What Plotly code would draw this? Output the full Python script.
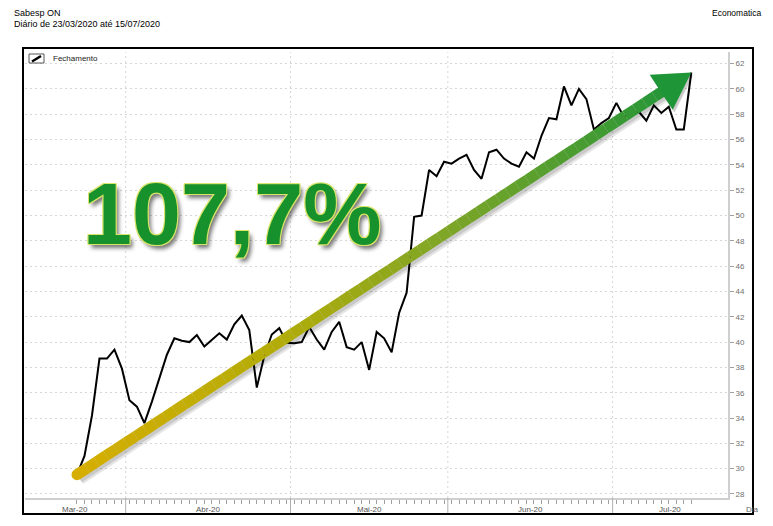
import math
import pandas as pd
import plotly.graph_objects as go

# ---------------- data ----------------
chart_title = "Sabesp ON"
chart_subtitle = "Diário de 23/03/2020 até 15/07/2020"
source_label = "Economatica"
series_name = "Fechamento"
x_axis_unit = "Dia"

start_date = "2020-03-23"
end_date = "2020-07-15"
month_labels = ["Mar-20", "Abr-20", "Mai-20", "Jun-20", "Jul-20"]
y_ticks = list(range(28, 63, 2))

close_values = [
    29.52, 31.0, 34.2, 38.7, 38.7, 39.4, 37.9,                     # Mar
    35.4, 34.9, 33.6, 35.3, 37.2, 39.0, 40.3, 40.1, 40.0, 40.55,
    39.65, 40.2, 40.7, 40.2, 41.4, 42.1, 40.95, 36.4, 38.9, 40.6,
    41.1, 39.95,                                                   # Abr
    39.9, 40.0, 41.2, 40.2, 39.4, 40.8, 41.6, 39.6, 39.4, 40.0,
    37.8, 40.8, 40.3, 39.2, 42.3, 43.9, 49.9, 50.0, 53.6, 53.1,
    54.25,                                                         # Mai
    54.1, 54.5, 54.8, 53.6, 52.9, 55.0, 55.2, 54.5, 54.1, 53.85,
    55.0, 54.5, 56.3, 57.7, 57.6, 60.2, 58.7, 60.0, 59.2, 56.8,
    57.3, 57.7,                                                    # Jun
    58.9, 57.8, 58.0, 58.2, 57.5, 58.7, 58.1, 58.6, 56.8, 56.8,
    61.3,                                                          # Jul
]

dates = pd.bdate_range(start_date, end_date)
assert len(dates) == len(close_values)
x_idx = list(range(len(dates)))

FONT = "Liberation Sans"

# ---------------- layout geometry ----------------
W, H = 773, 526
ML, MR, MT, MB = 25, 45, 52, 28
PW, PH = W - ML - MR, H - MT - MB
XR = [-6.94, 86.9]
YR = [27.68, 62.92]
SX = PW / (XR[1] - XR[0])
SY = PH / (YR[1] - YR[0])


def px_x(px):
    return (px - ML) / PW


def px_y(py):
    return (MT + PH - py) / PH


# month boundaries and label positions
boundaries = [i - 0.5 for i in range(1, len(dates)) if dates[i].month != dates[i - 1].month]
edges = [XR[0]] + boundaries + [XR[1]]
label_pos = [(edges[k] + edges[k + 1]) / 2 for k in range(len(month_labels))]

fig = go.Figure()
fig.add_trace(go.Scatter(
    x=x_idx, y=close_values, mode="lines", name=series_name,
    line=dict(color="#000000", width=2),
    customdata=[d.strftime("%d/%m/%Y") for d in dates],
    hovertemplate="%{customdata}: %{y:.2f}<extra></extra>",
    showlegend=False,
))

shapes = []
annotations = []

# vertical dotted gridlines and separators at month boundaries
for b in boundaries:
    shapes.append(dict(type="line", xref="x", yref="paper", x0=b, x1=b, y0=0, y1=1,
                       line=dict(color="#d6d6d6", width=1, dash="2px,3px"), layer="below"))
    shapes.append(dict(type="line", xref="x", yref="paper", x0=b, x1=b, y0=0, y1=px_y(514),
                       line=dict(color="#b0b0b0", width=1), layer="above"))

# month labels
for lab, pos in zip(month_labels, label_pos):
    annotations.append(dict(text=lab, x=pos, xref="x", y=px_y(509), yref="paper",
                            showarrow=False, xanchor="center", yanchor="middle",
                            font=dict(family=FONT, size=8, color="#555555")))
annotations.append(dict(text=x_axis_unit, x=px_x(752), y=px_y(509), xref="paper", yref="paper",
                        showarrow=False, xanchor="center", yanchor="middle",
                        font=dict(family=FONT, size=8, color="#666666")))

# ---------------- gradient arrow from first to last close ----------------
x_a, y_a = x_idx[0], close_values[0]
tx = (x_idx[-1] - x_a) * SX
ty = (close_values[-1] - y_a) * SY
L = math.hypot(tx, ty)
ux, uy = tx / L, ty / L
nx, ny = -uy, ux
head_len, head_half, shaft_w = 36, 21, 11
bx, by = tx - head_len * ux, ty - head_len * uy
sx_end, sy_end = tx - (head_len - 4) * ux, ty - (head_len - 4) * uy

stops = [(0.0, (214, 174, 0)), (0.35, (178, 172, 8)), (0.62, (128, 166, 38)), (1.0, (38, 150, 55))]


def grad(t):
    for (t0, c0), (t1, c1) in zip(stops[:-1], stops[1:]):
        if t <= t1:
            f = (t - t0) / (t1 - t0)
            return "rgb(%d,%d,%d)" % tuple(round(a + (b - a) * f) for a, b in zip(c0, c1))
    return "rgb(%d,%d,%d)" % stops[-1][1]


pix = dict(xref="x", yref="y", xsizemode="pixel", ysizemode="pixel", xanchor=x_a, yanchor=y_a)
hv1 = (bx + head_half * nx, by + head_half * ny)
hv2 = (bx - head_half * nx, by - head_half * ny)


def path(pts, dx=0.0, dy=0.0):
    return "M " + " L ".join("%.2f,%.2f" % (p[0] + dx, p[1] + dy) for p in pts) + " Z"


# soft shadow
for off, alpha, extra in [((2.0, -3.0), 0.10, 4), ((1.5, -2.5), 0.12, 1)]:
    shapes.append(dict(type="line", x0=off[0], y0=off[1], x1=sx_end + off[0], y1=sy_end + off[1],
                       line=dict(color="rgba(0,0,0,%.2f)" % alpha, width=shaft_w + extra), **pix))
    shapes.append(dict(type="path", path=path([(tx, ty), hv1, hv2], off[0], off[1]),
                       fillcolor="rgba(0,0,0,%.2f)" % alpha, line=dict(width=0), **pix))
# shaft segments
N = 60
for k in range(N):
    t0, t1 = k / N, (k + 1) / N
    shapes.append(dict(type="line", x0=sx_end * t0, y0=sy_end * t0, x1=sx_end * t1, y1=sy_end * t1,
                       line=dict(color=grad((t0 + t1) / 2), width=shaft_w), **pix))
shapes.append(dict(type="circle", x0=-shaft_w / 2, x1=shaft_w / 2, y0=-shaft_w / 2, y1=shaft_w / 2,
                   fillcolor=grad(0), line=dict(width=0), **pix))
# head
shapes.append(dict(type="path", path=path([(tx, ty), hv1, hv2]),
                   fillcolor="rgb(30,150,55)", line=dict(width=0), **pix))

# ---------------- legend box (custom) ----------------
shapes.append(dict(type="rect", xref="paper", yref="paper", x0=px_x(29), x1=px_x(44),
                   y0=px_y(63), y1=px_y(54), line=dict(color="#555555", width=1), fillcolor="white"))
shapes.append(dict(type="line", xref="paper", yref="paper", x0=px_x(32), x1=px_x(41),
                   y0=px_y(61.5), y1=px_y(56), line=dict(color="#000000", width=2.5)))
annotations.append(dict(text=series_name, x=px_x(51), y=px_y(58.5), xref="paper", yref="paper",
                        showarrow=False, xanchor="left", yanchor="middle",
                        font=dict(family=FONT, size=8, color="#222222")))

# ---------------- frame ----------------
shapes.append(dict(type="rect", xref="paper", yref="paper", x0=px_x(23), x1=px_x(753),
                   y0=px_y(514), y1=px_y(48), line=dict(color="#000000", width=2)))

# ---------------- header texts ----------------
annotations.append(dict(text=chart_title, x=px_x(12), y=px_y(13), xref="paper", yref="paper",
                        showarrow=False, xanchor="left", yanchor="middle",
                        font=dict(family=FONT, size=9, color="#000000")))
annotations.append(dict(text=chart_subtitle, x=px_x(12), y=px_y(24), xref="paper", yref="paper",
                        showarrow=False, xanchor="left", yanchor="middle",
                        font=dict(family=FONT, size=9, color="#000000")))
annotations.append(dict(text=source_label, x=px_x(763), y=px_y(13), xref="paper", yref="paper",
                        showarrow=False, xanchor="right", yanchor="middle",
                        font=dict(family=FONT, size=8.5, color="#000000")))

# ---------------- big percentage text ----------------
pct = (close_values[-1] / close_values[0] - 1) * 100
pct_text = ("%.1f" % pct).replace(".", ",") + "%"
annotations.append(dict(
    text=pct_text, x=px_x(232), y=px_y(213), xref="paper", yref="paper",
    showarrow=False, xanchor="center", yanchor="middle",
    font=dict(family=FONT, size=88, weight="bold", color="#16912c",
              shadow="-1px -1px 0 #d9e46a, 1px -1px 0 #d9e46a, -1px 1px 0 #d9e46a, "
                     "1px 1px 0 #d9e46a, 3px 4px 4px rgba(0,0,0,0.55)"),
))

fig.update_layout(
    width=W, height=H,
    margin=dict(l=ML, r=MR, t=MT, b=MB, pad=0),
    paper_bgcolor="white", plot_bgcolor="white",
    showlegend=False,
    font=dict(family=FONT),
    shapes=shapes, annotations=annotations,
    xaxis=dict(range=XR, tickmode="array", tickvals=x_idx, ticktext=[""] * len(x_idx),
               ticks="outside", ticklen=4, tickcolor="#a0a0a0", tickwidth=1,
               showgrid=False, zeroline=False, showline=True, linecolor="#cfcfcf", linewidth=2,
               fixedrange=True),
    yaxis=dict(range=YR, side="right", tickmode="array", tickvals=y_ticks,
               ticktext=[str(v) for v in y_ticks], ticks="outside", ticklen=4,
               tickcolor="#a0a0a0", tickwidth=1,
               tickfont=dict(family=FONT, size=8, color="#707070"),
               showgrid=True, gridcolor="#d6d6d6", griddash="2px,3px", gridwidth=1,
               zeroline=False, showline=True, linecolor="#cfcfcf", linewidth=2,
               fixedrange=True),
)

fig.write_html("out.html", config={"displayModeBar": False},
               post_script="document.body.style.margin='0px';")
